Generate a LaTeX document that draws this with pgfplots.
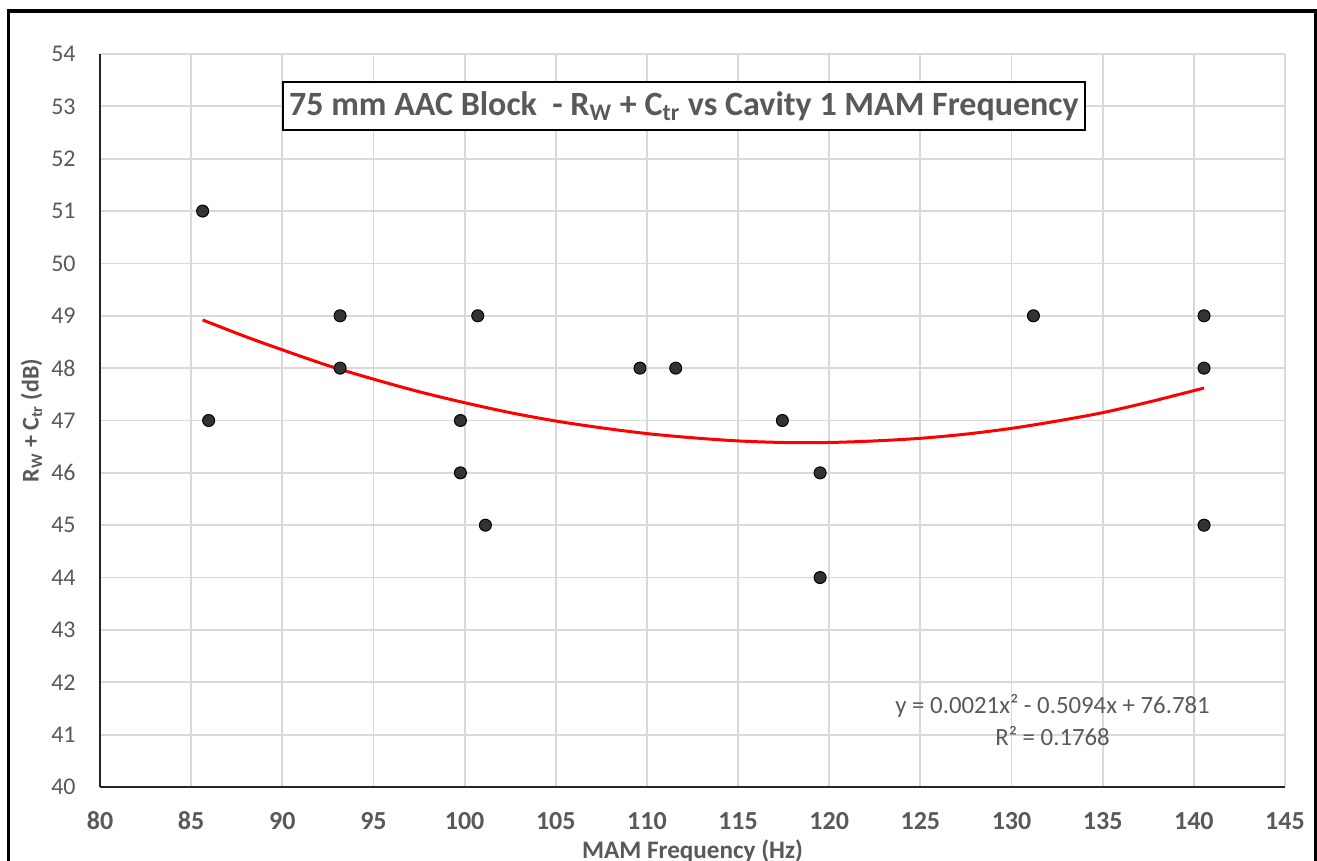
\documentclass[border=0pt]{standalone}
\usepackage{fontspec}
\setmainfont{Carlito}
\usepackage{pgfplots}
\pgfplotsset{compat=1.18}
\definecolor{txt}{HTML}{595959}
\definecolor{grd}{HTML}{D9D9D9}
\definecolor{mk}{HTML}{333333}
\definecolor{axl}{HTML}{262626}
\begin{document}
\begin{tikzpicture}
\begin{axis}[
  at={(0,0)}, anchor=south west,
  scale only axis, width=592.5pt, height=366.5pt,
  xmin=80, xmax=145, ymin=40, ymax=54,
  xtick distance=5, ytick distance=1,
  grid=major, major grid style={grd, line width=0.9pt},
  axis x line*=bottom, axis y line*=left,
  axis line style={line width=1pt, axl, -},
  major tick length=0pt,
  /pgf/number format/assume math mode=true,
  xticklabel style={font=\fontsize{13}{15}\selectfont\bfseries, text=txt, anchor=center, inner sep=0pt, yshift=-17pt},
  yticklabel style={font=\fontsize{12}{14}\selectfont, text=txt, anchor=east, inner sep=0pt, xshift=-12pt},
  xlabel={MAM Frequency (Hz)},
  xlabel style={at={(axis description cs:0.5,0)}, anchor=base, inner sep=0pt, yshift=-36pt, font=\fontsize{12.6}{15}\selectfont\bfseries, text=txt},
  ylabel={R\textsubscript{W} + C\textsubscript{tr} (dB)},
  ylabel style={at={(axis description cs:-0.0519,0.5)}, anchor=base, inner sep=0pt, font=\fontsize{12}{14}\selectfont\bfseries, text=txt},
  clip=false,
]
\addplot[only marks, mark=*, mark size=3pt, mark options={fill=mk, draw=black, line width=0.5pt}] coordinates {
(85.63,51) (85.96,47) (93.17,49) (93.17,48) (99.77,47) (99.77,46)
(100.72,49) (101.14,45) (109.62,48) (111.58,48) (117.43,47) (119.5,46)
(119.5,44) (131.2,49) (140.56,49) (140.56,48) (140.56,45)
};
\addplot[red, line width=1.5pt, smooth, no marks] coordinates {
(85.63,48.92) (88,48.60) (90,48.35) (92.5,48.05) (95,47.79) (97.5,47.55)
(100,47.34) (102.5,47.15) (105,46.99) (107.5,46.86) (110,46.75) (112.5,46.67)
(115,46.61) (117.5,46.58) (120,46.58) (122.5,46.61) (125,46.66) (127.5,46.74)
(130,46.85) (132.5,46.99) (135,47.15) (137.5,47.35) (140,47.57) (140.56,47.62)
};
\node[anchor=base, inner sep=0pt, text=txt, font=\fontsize{12.4}{14}\selectfont] at (axis cs:132.25,41.41) {y = 0.0021x² - 0.5094x + 76.781};
\node[anchor=base, inner sep=0pt, text=txt, font=\fontsize{12.4}{14}\selectfont] at (axis cs:132.25,40.80) {R² = 0.1768};
\node[draw=black, line width=1pt, fill=white, minimum width=401pt, minimum height=24pt, inner sep=0pt, text=txt, font=\fontsize{17}{20}\selectfont\bfseries] at (rel axis cs:0.4928,0.929) {75 mm AAC Block\ \ - R\textsubscript{W} + C\textsubscript{tr} vs Cavity 1 MAM Frequency};
\end{axis}
\draw[line width=1.6pt] (-45.75pt,-40pt) -- (-45.75pt,388pt) -- (607.8pt,388pt) -- (607.8pt,-40pt);
\pgfresetboundingbox
\path[use as bounding box] (-50pt,-37pt) rectangle (608.5pt,393.5pt);
\end{tikzpicture}
\end{document}
